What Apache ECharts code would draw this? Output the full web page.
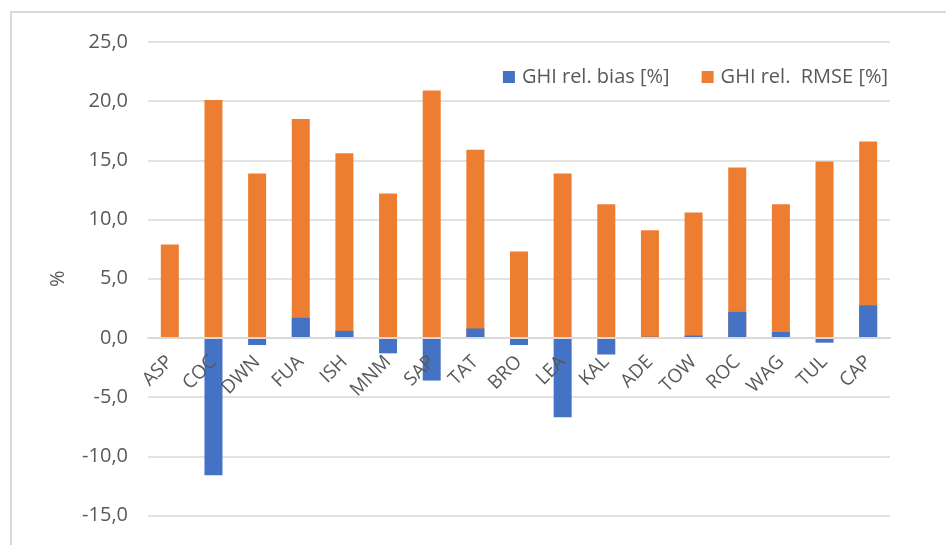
<!DOCTYPE html>
<html>
<head>
<meta charset="utf-8">
<script src="https://cdn.jsdelivr.net/npm/echarts@6/dist/echarts.min.js"></script>
<style>
  html, body { margin: 0; padding: 0; background: #ffffff; }
  #frame { position: absolute; left: 10px; top: 11px; width: 960px; height: 560px;
           border-left: 2px solid #d9d9d9; border-top: 2px solid #d9d9d9; box-sizing: border-box; }
  #chart { position: absolute; left: 0; top: 0; width: 946px; height: 545px; }
</style>
</head>
<body>
<div id="frame"></div>
<div id="chart"></div>
<script>
// Stations
const stations = ['ASP', 'COC', 'DWN', 'FUA', 'ISH', 'MNM', 'SAP', 'TAT', 'BRO',
                  'LEA', 'KAL', 'ADE', 'TOW', 'ROC', 'WAG', 'TUL', 'CAP'];
// GHI relative bias [%]
const biasValues = [0.05, -11.6, -0.6, 1.7, 0.6, -1.3, -3.6, 0.8, -0.6,
                    -6.7, -1.4, 0.1, 0.2, 2.2, 0.5, -0.4, 2.75];
// GHI relative RMSE [%]
const rmseValues = [7.9, 20.1, 13.9, 18.5, 15.6, 12.2, 20.9, 15.9, 7.3,
                    13.9, 11.3, 9.1, 10.6, 14.4, 11.3, 14.9, 16.6];
// Y axis range
const yMin = -15, yMax = 25, yStep = 5;

const biasName = 'GHI rel. bias [%]';
const rmseName = 'GHI rel.  RMSE [%]';
const textColor = '#595959';
const font = '"Open Sans", "Noto Sans", sans-serif';

// plot area
const gridTop = 42, gridBottom = 29.5, chartH = 545;
const plotH = chartH - gridTop - gridBottom;
// distance from the bottom of the plot up to the zero line
const zeroLift = plotH * (0 - yMin) / (yMax - yMin);

const chart = echarts.init(document.getElementById('chart'));
chart.setOption({
  backgroundColor: 'transparent',
  animation: false,
  textStyle: { fontFamily: font },
  grid: { left: 148, right: 56, top: gridTop, bottom: gridBottom },
  legend: {
    data: [biasName, rmseName],
    right: 53,
    top: 62,
    itemWidth: 12,
    itemHeight: 12,
    itemGap: 32,
    icon: 'rect',
    textStyle: { color: textColor, fontSize: 20, fontFamily: font, padding: [0, 0, 0, 2] }
  },
  xAxis: {
    type: 'category',
    data: stations,
    z: 5,
    offset: -zeroLift,
    axisLine: { onZero: false, lineStyle: { color: '#d9d9d9', width: 2 } },
    axisTick: { show: false },
    axisLabel: { rotate: 45, color: textColor, fontSize: 19, margin: 21, interval: 0 }
  },
  yAxis: {
    type: 'value',
    min: yMin,
    max: yMax,
    interval: yStep,
    name: '%',
    nameLocation: 'middle',
    nameGap: 80,
    nameRotate: 90,
    nameTextStyle: { color: textColor, fontSize: 20 },
    axisLine: { show: false },
    axisTick: { show: false },
    axisLabel: {
      color: textColor, fontSize: 20, margin: 20,
      formatter: v => v.toFixed(1).replace('.', ',')
    },
    splitLine: { lineStyle: { color: '#d9d9d9', width: 1.5 } }
  },
  series: [
    {
      name: rmseName,
      type: 'bar',
      data: rmseValues,
      barWidth: 18,
      barGap: '-100%',
      itemStyle: { color: '#ED7D31' }
    },
    {
      name: biasName,
      type: 'bar',
      data: biasValues,
      barWidth: 18,
      barGap: '-100%',
      itemStyle: { color: '#4472C4' }
    }
  ]
});
</script>
</body>
</html>
